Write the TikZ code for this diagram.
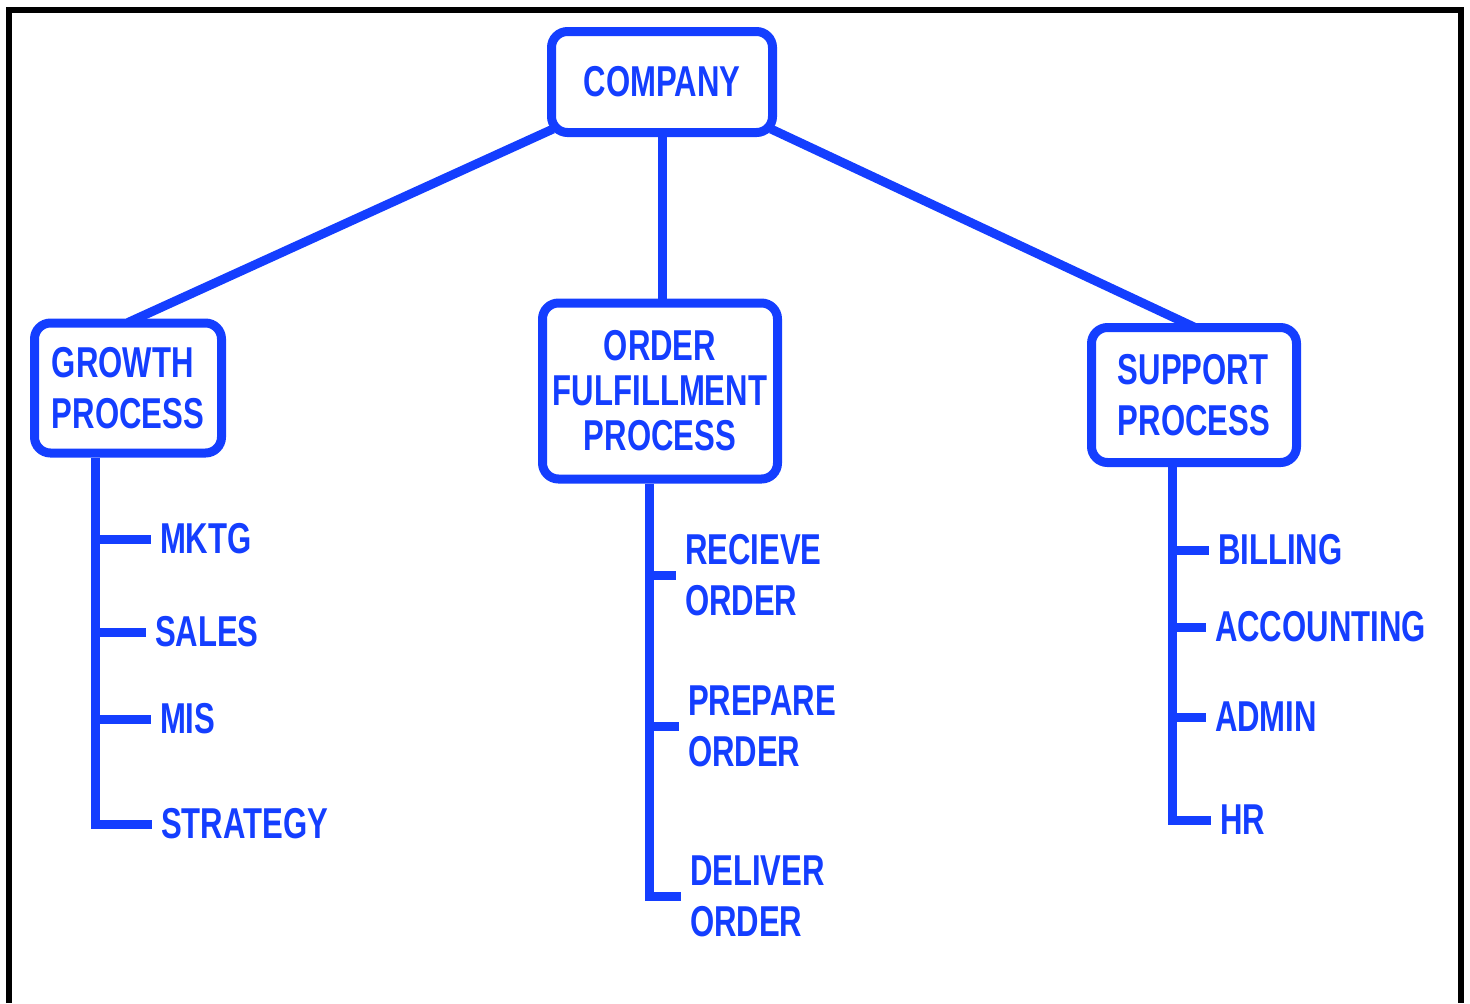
\documentclass[tikz,border=0pt]{standalone}
\usepackage{fontspec}
\newfontfamily\chartfont[FakeStretch=0.72]{Liberation Sans}
\usetikzlibrary{calc}
\definecolor{chartblue}{RGB}{20,62,255}
\tikzset{
  chart/.style={x=0.5pt,y=-0.5pt,line width=4.5pt,color=chartblue,
    font=\chartfont\bfseries\fontsize{21.6}{25.5}\selectfont},
  unit/.style={draw,fill=white,rounded corners=8pt,align=left,inner sep=0pt},
  item/.style={anchor=west,align=left,inner xsep=4.5pt,inner ysep=0pt,outer sep=0pt}
}

\begin{document}
\begin{tikzpicture}[chart]
    \useasboundingbox (0,0) rectangle (1470,1003);
    \draw[black,line width=3pt] (8.5,1003) -- (8.5,9.5) -- (1460.5,9.5) -- (1460.5,1003);

    \node[unit,minimum width=110.5pt,minimum height=50.5pt] (company) at (662,82) {COMPANY};
    \node[unit,minimum width=93.5pt,minimum height=65pt] (growth) at (128,388) {GROWTH\\PROCESS};
    \node[unit,align=center,minimum width=117.5pt,minimum height=88pt,
      font=\chartfont\bfseries\fontsize{21.6}{22.5}\selectfont] (order) at (660,391) {ORDER\\FULFILLMENT\\PROCESS};
    \node[unit,minimum width=102.5pt,minimum height=67.5pt] (support) at (1194,395) {SUPPORT\\PROCESS};

    \draw ([xshift=3pt,yshift=4pt]company.south west) -- ([yshift=-2pt]growth.north);
    \draw ([xshift=-3pt,yshift=4pt]company.south east) -- ([yshift=-2pt]support.north);
    \draw (company.south) -- (company.south |- order.north);

    \coordinate (gtop) at ([xshift=-16.5pt]growth.south);
    \coordinate (otop) at ([xshift=-5.5pt]order.south);
    \coordinate (stop) at ([xshift=-11pt]support.south);

    \node[item] (mktg) at (151,539) {MKTG};
    \node[item] (sales) at (146,632) {SALES};
    \node[item] (mis) at (151,719) {MIS};
    \node[item] (strategy) at (152,824) {STRATEGY};

    \node[item] (recieve) at (676,575) {RECIEVE\\ORDER};
    \node[item] (prepare) at (679,726) {PREPARE\\ORDER};
    \node[item] (deliver) at (681,896) {DELIVER\\ORDER};

    \node[item] (billing) at (1209,550) {BILLING};
    \node[item] (accounting) at (1206,627) {ACCOUNTING};
    \node[item] (admin) at (1206,717) {ADMIN};
    \node[item] (hr) at (1211,820) {HR};

    \draw (gtop) |- (strategy.west);
    \foreach \n in {mktg,sales,mis}
      \draw (\n.west -| gtop) -- (\n.west);
    \draw (otop) |- (deliver.west);
    \foreach \n in {recieve,prepare}
      \draw (\n.west -| otop) -- (\n.west);
    \draw (stop) |- (hr.west);
    \foreach \n in {billing,accounting,admin}
      \draw (\n.west -| stop) -- (\n.west);
\end{tikzpicture}
\end{document}
